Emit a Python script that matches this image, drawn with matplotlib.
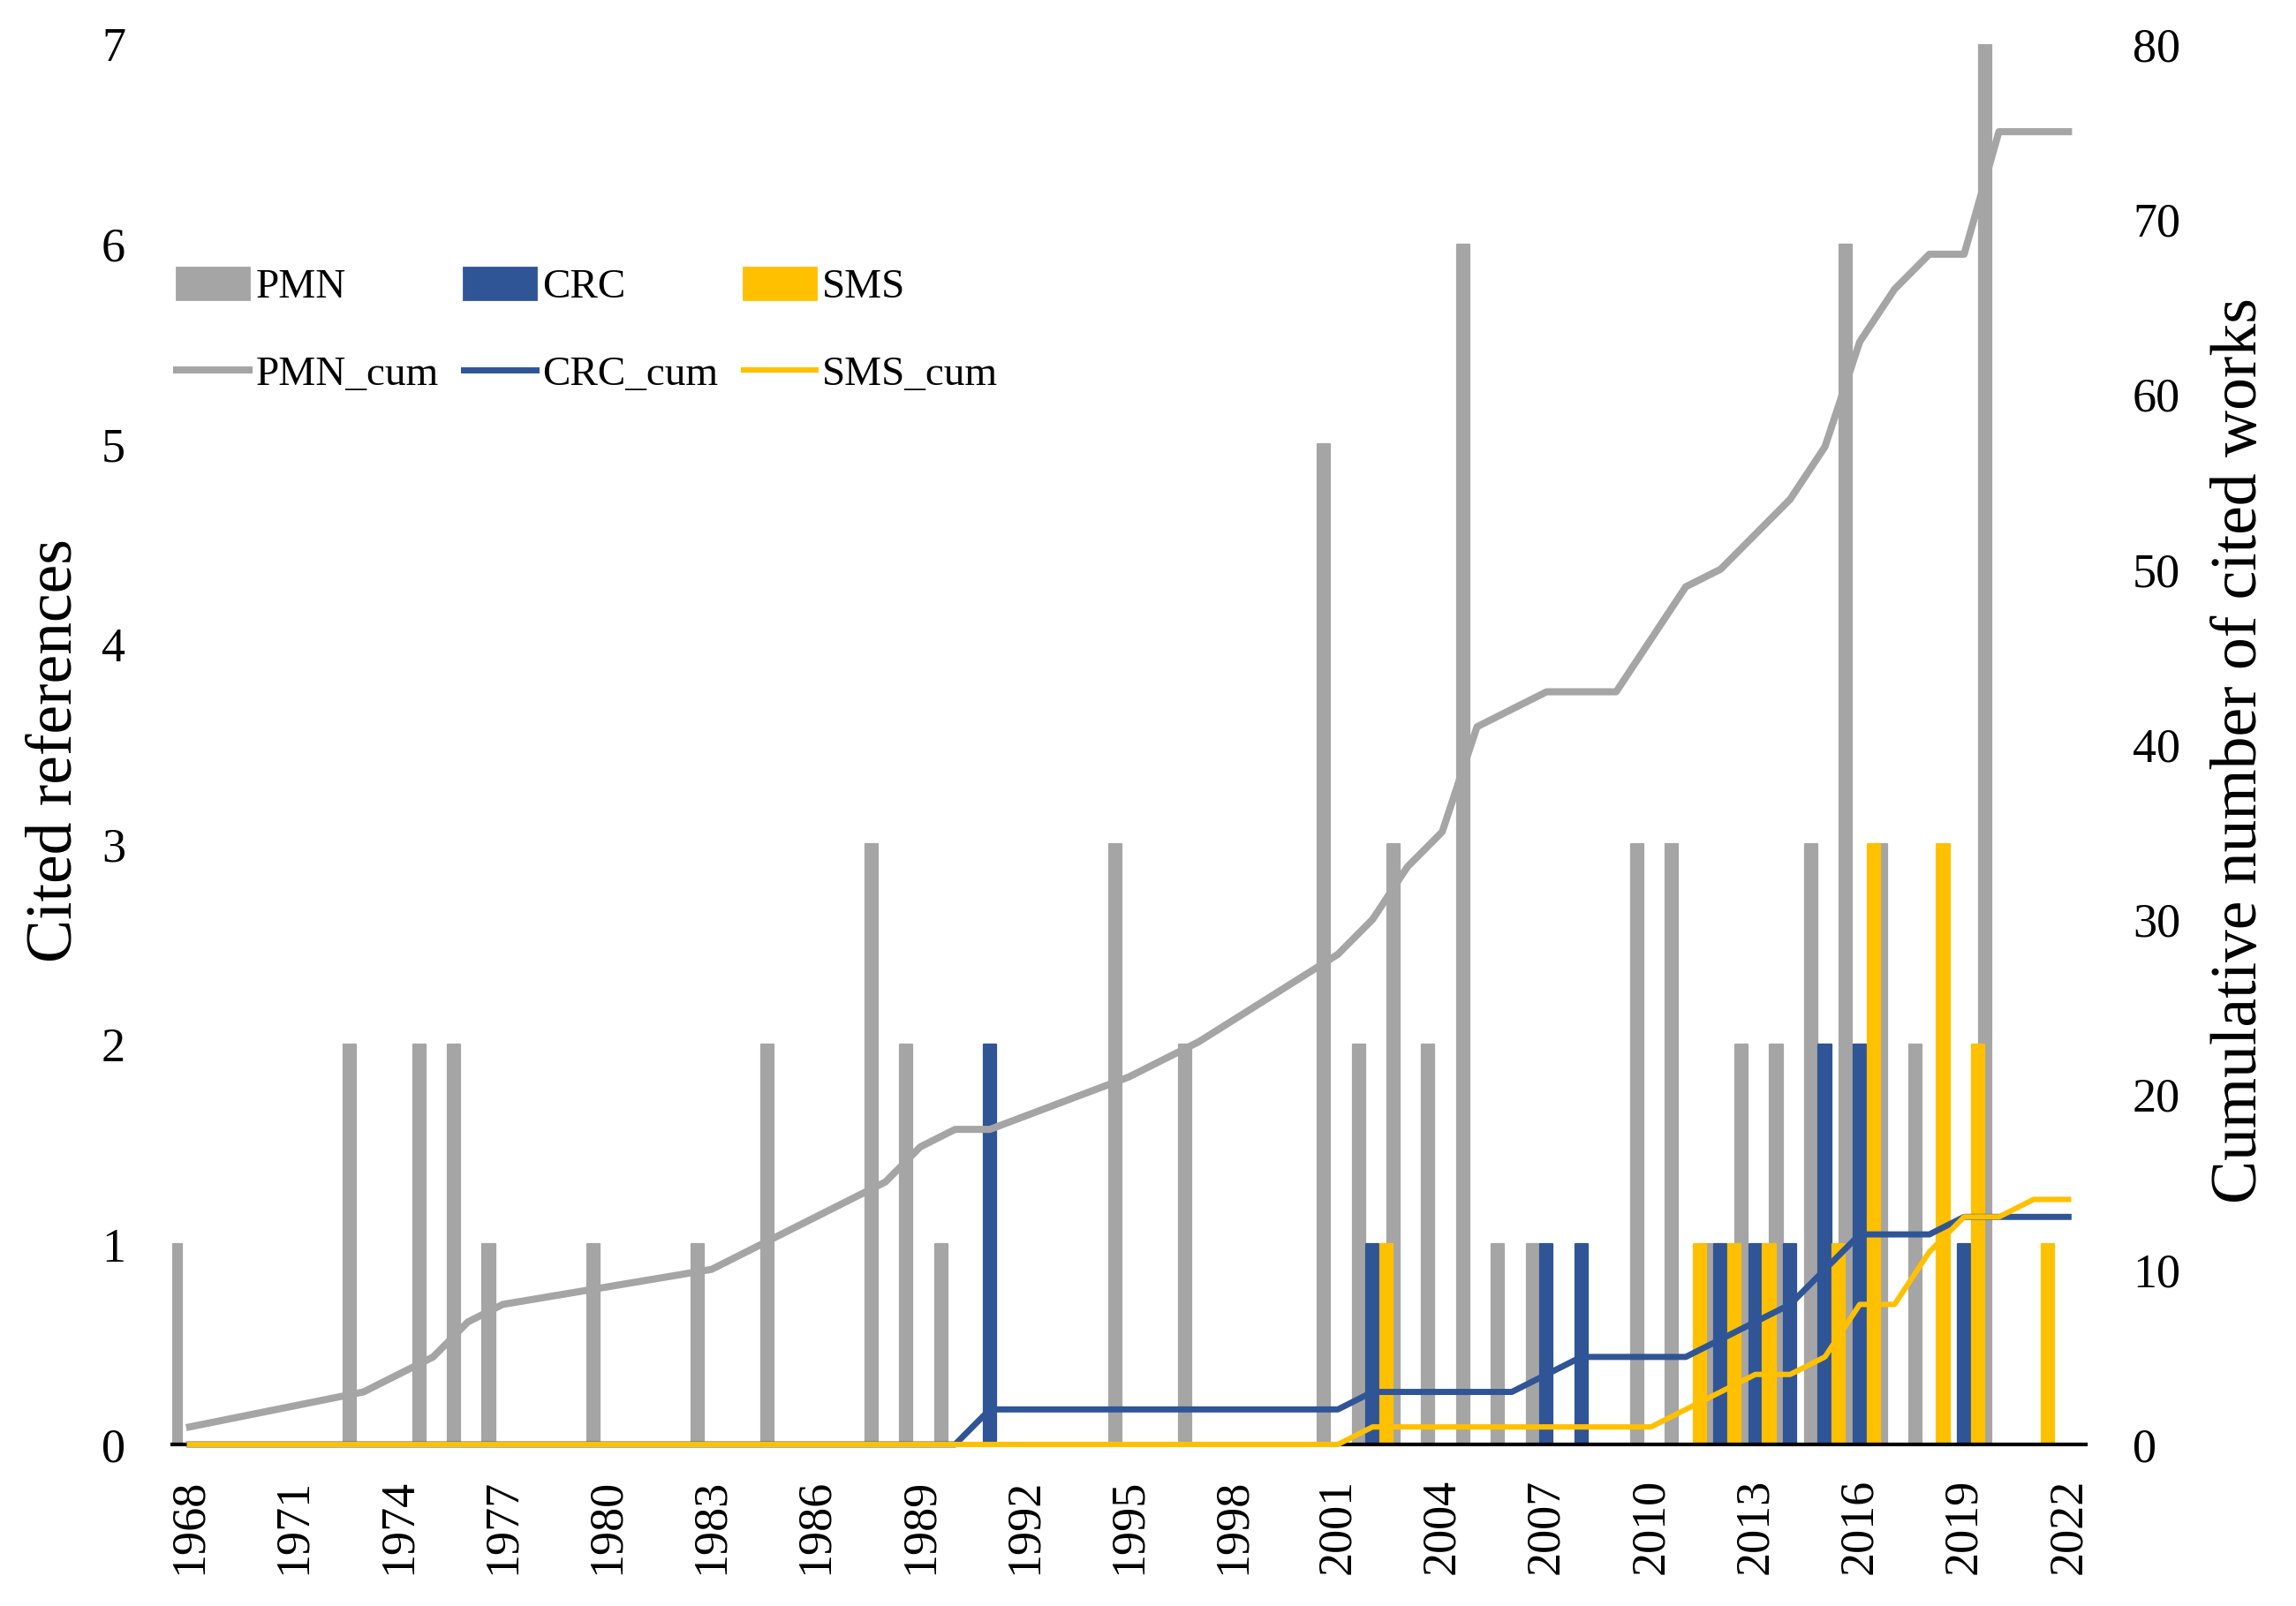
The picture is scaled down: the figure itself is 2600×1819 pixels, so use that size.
import numpy as np
import matplotlib
matplotlib.use("Agg")
import matplotlib.pyplot as plt
from matplotlib.patches import Patch
from matplotlib.lines import Line2D

plt.rcParams['font.family'] = ['Liberation Serif', 'DejaVu Serif']

# years that carry a data point (Excel date axis, lines join these only)
years = [1968, 1973, 1975, 1976, 1977, 1980, 1983, 1985, 1988, 1989, 1990,
         1991, 1995, 1997, 2001, 2002, 2003, 2004, 2005, 2006, 2007, 2008,
         2009, 2010, 2011, 2012, 2013, 2014, 2015, 2016, 2017, 2018, 2019,
         2020, 2021, 2022]

pmn = [1, 2, 2, 2, 1, 1, 1, 2, 3, 2, 1,
       0, 3, 2, 5, 2, 3, 2, 6, 1, 1, 0,
       0, 3, 3, 1, 2, 2, 3, 6, 3, 2, 0,
       7, 0, 0]
crc = [0, 0, 0, 0, 0, 0, 0, 0, 0, 0, 0,
       2, 0, 0, 0, 1, 0, 0, 0, 0, 1, 1,
       0, 0, 0, 1, 1, 1, 2, 2, 0, 0, 1,
       0, 0, 0]
sms = [0, 0, 0, 0, 0, 0, 0, 0, 0, 0, 0,
       0, 0, 0, 0, 1, 0, 0, 0, 0, 0, 0,
       0, 0, 1, 1, 1, 0, 1, 3, 0, 3, 2,
       0, 1, 0]

pmn_cum = [1, 3, 5, 7, 8, 9, 10, 12, 15, 17, 18,
           18, 21, 23, 28, 30, 33, 35, 41, 42, 43, 43,
           43, 46, 49, 50, 52, 54, 57, 63, 66, 68, 68,
           75, 75, 75]
crc_cum = [0, 0, 0, 0, 0, 0, 0, 0, 0, 0, 0,
           2, 2, 2, 2, 3, 3, 3, 3, 3, 4, 5,
           5, 5, 5, 6, 7, 8, 10, 12, 12, 12, 13,
           13, 13, 13]
sms_cum = [0, 0, 0, 0, 0, 0, 0, 0, 0, 0, 0,
           0, 0, 0, 0, 1, 1, 1, 1, 1, 1, 1,
           1, 1, 2, 3, 4, 4, 5, 8, 8, 11, 13,
           13, 14, 14]

tick_years = list(range(1968, 2023, 3))

gray = '#A5A5A5'
blue = '#2F5597'
gold = '#FFC000'

fig = plt.figure(figsize=(13, 9.095), dpi=200)
ax = fig.add_axes([0.075, 0.1006, 0.8335, 0.8719])
ax2 = ax.twinx()

x = np.array(years)
w = 0.36
off = 0.4
ax.bar(x - off, pmn, width=w, color=gray, edgecolor=gray, linewidth=0.8, joinstyle='round')
ax.bar(x, crc, width=w, color=blue, edgecolor=blue, linewidth=0.8, joinstyle='round')
ax.bar(x + off, sms, width=w, color=gold, edgecolor=gold, linewidth=0.8, joinstyle='round')

ax2.plot(x, pmn_cum, color=gray, lw=2.9, clip_on=False, solid_joinstyle='round')
ax2.plot(x, crc_cum, color=blue, lw=2.5, clip_on=False, solid_joinstyle='round')
ax2.plot(x, sms_cum, color=gold, lw=2.2, clip_on=False, solid_joinstyle='round')

ax.set_xlim(1967.5, 2022.5)
ax.set_ylim(0, 7)
ax2.set_ylim(0, 80)
ax.set_yticks(range(0, 8))
ax2.set_yticks(range(0, 81, 10))
ax.set_xticks(tick_years)
ax.set_xticklabels([str(t) for t in tick_years], rotation=90)

for s in ['top', 'left', 'right']:
    ax.spines[s].set_visible(False)
for s in ax2.spines.values():
    s.set_visible(False)
ax.spines['bottom'].set_linewidth(1.5)
ax.spines['bottom'].set_color('black')

ax.tick_params(axis='y', length=0, pad=19, labelsize=19.5)
ax.tick_params(axis='x', length=0, pad=14, labelsize=19.5)
ax2.tick_params(axis='y', length=0, pad=19, labelsize=19.5)

fig.text(63 / 2600, 1 - 850 / 1819, 'Cited references', rotation=90,
         ha='center', va='center', fontsize=26.5)
fig.text(2537 / 2600, 1 - 850 / 1819, 'Cumulative number of cited works', rotation=90,
         ha='center', va='center', fontsize=26.5)

handles = [Patch(color=gray), Line2D([], [], color=gray, lw=2.9),
           Patch(color=blue), Line2D([], [], color=blue, lw=2.5),
           Patch(color=gold), Line2D([], [], color=gold, lw=2.2)]
labels = ['PMN', 'PMN_cum', 'CRC', 'CRC_cum', 'SMS', 'SMS_cum']
fig.legend(handles, labels, ncol=3, loc='upper left',
           bbox_to_anchor=(200 / 2600, 1 - 303 / 1819), bbox_transform=fig.transFigure,
           frameon=False, fontsize=17, borderpad=0, borderaxespad=0,
           handlelength=1.74, handleheight=0.8, handletextpad=0.15,
           columnspacing=0.6, labelspacing=1.15)

fig.savefig('out.png', dpi=200)
